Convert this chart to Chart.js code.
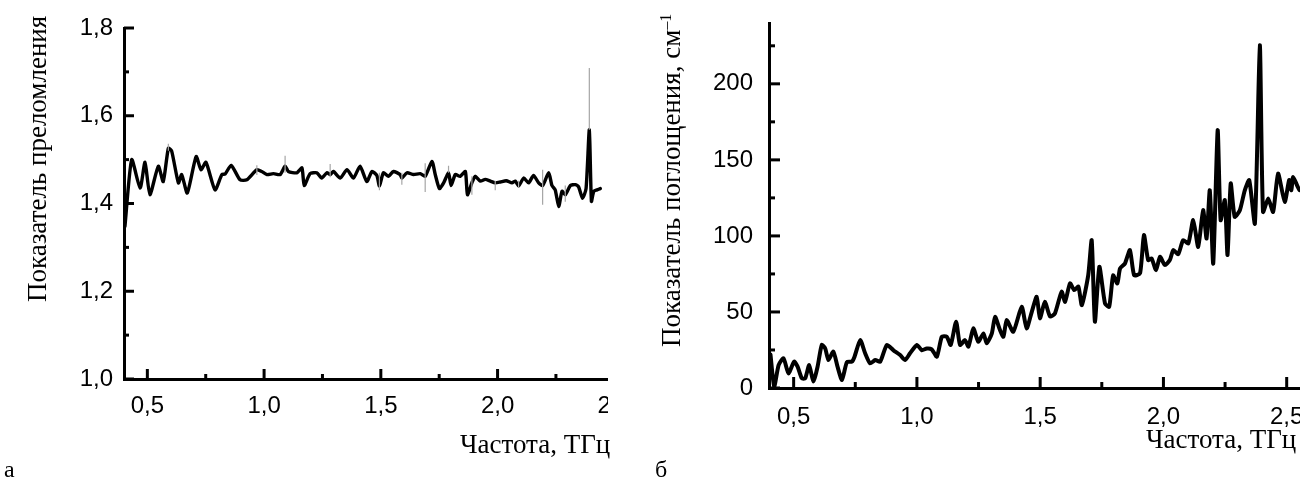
<!DOCTYPE html>
<html>
<head>
<meta charset="utf-8">
<script src="https://cdn.jsdelivr.net/npm/chart.js@4.4.1/dist/chart.umd.min.js"></script>
<style>
  html, body { margin: 0; padding: 0; background: #fff; }
  body { width: 1300px; height: 483px; position: relative; overflow: hidden; }
  .panel { position: absolute; top: 0; height: 483px; overflow: hidden; }
  canvas { position: absolute; top: 0; left: 0; }
  .txt { position: absolute; font-family: "Liberation Serif", "Times New Roman", serif; color: #000; white-space: nowrap; line-height: 1; }
  .ytitle { transform: rotate(-90deg); transform-origin: left top; }
  sup { font-size: 60%; vertical-align: 0.55em; line-height: 0; }
</style>
</head>
<body>
<div class="panel" id="panelA" style="left:0; width:608px;"><canvas id="chartA" width="700" height="483"></canvas></div>
<div class="panel" id="panelB" style="left:650px; width:720px;"><canvas id="chartB" width="720" height="483"></canvas></div>

<div class="txt ytitle" style="left:24px; top:302px; font-size:27px;">Показатель преломления</div>
<div class="txt" style="left:460px; top:431px; font-size:27px;">Частота, ТГц</div>
<div class="txt" style="left:4px; top:457px; font-size:24px;">а</div>

<div class="txt ytitle" style="left:658px; top:347px; font-size:27px;">Показатель поглощения, см<sup>–1</sup></div>
<div class="txt" style="left:1146px; top:426px; font-size:27px;">Частота, ТГц</div>
<div class="txt" style="left:655px; top:457px; font-size:24px;">б</div>

<script>
// Refractive index, smoothed curve (black)
const nFreq = [0.404,0.433,0.469,0.49,0.511,0.547,0.568,0.59,0.604,0.633,0.647,0.671,0.709,0.73,0.751,0.79,0.819,0.833,0.859,0.897,0.926,0.969,0.99,1.012,1.04,1.069,1.09,1.104,1.14,1.162,1.172,1.197,1.226,1.247,1.269,1.283,1.297,1.326,1.355,1.383,1.411,1.44,1.462,1.483,1.494,1.511,1.533,1.554,1.583,1.59,1.612,1.64,1.669,1.69,1.719,1.733,1.751,1.769,1.79,1.801,1.819,1.84,1.862,1.871,1.89,1.904,1.926,1.947,1.969,1.99,2.012,2.037,2.062,2.076,2.09,2.112,2.133,2.154,2.176,2.193,2.219,2.233,2.247,2.262,2.276,2.29,2.312,2.333,2.347,2.364,2.379,2.393,2.402,2.412,2.426,2.44];
const nValue = [1.348,1.50,1.435,1.494,1.42,1.485,1.45,1.526,1.52,1.447,1.466,1.424,1.507,1.477,1.494,1.431,1.466,1.467,1.487,1.454,1.454,1.477,1.473,1.466,1.468,1.466,1.485,1.473,1.47,1.481,1.441,1.468,1.47,1.458,1.47,1.466,1.473,1.458,1.477,1.458,1.485,1.45,1.473,1.464,1.44,1.47,1.462,1.473,1.466,1.458,1.47,1.466,1.468,1.462,1.496,1.466,1.434,1.447,1.47,1.441,1.466,1.462,1.473,1.42,1.447,1.462,1.451,1.455,1.451,1.447,1.449,1.452,1.447,1.451,1.44,1.458,1.447,1.464,1.447,1.441,1.47,1.441,1.431,1.393,1.428,1.42,1.441,1.443,1.438,1.412,1.434,1.568,1.405,1.428,1.431,1.434];

// Refractive index, raw-data excursions (thin grey): frequency, low, high
const nSpikeFreq = [0.59,0.969,1.09,1.283,1.494,1.59,1.69,1.79,1.89,1.99,2.09,2.193,2.29,2.393];
const nSpikeLow  = [1.52,1.465,1.47,1.46,1.43,1.443,1.426,1.47,1.42,1.43,1.436,1.397,1.404,1.568];
const nSpikeHigh = [1.536,1.487,1.509,1.49,1.47,1.47,1.492,1.486,1.462,1.452,1.452,1.477,1.441,1.709];

// Absorption coefficient, cm^-1
const aFreq = [0.406,0.421,0.439,0.459,0.479,0.502,0.516,0.533,0.547,0.563,0.58,0.597,0.614,0.628,0.641,0.661,0.678,0.696,0.716,0.736,0.747,0.77,0.79,0.81,0.831,0.851,0.878,0.905,0.932,0.952,0.972,1.0,1.02,1.04,1.06,1.081,1.101,1.121,1.137,1.159,1.175,1.195,1.209,1.229,1.249,1.27,1.283,1.304,1.317,1.337,1.351,1.364,1.391,1.425,1.445,1.466,1.486,1.499,1.519,1.54,1.56,1.587,1.601,1.621,1.638,1.655,1.669,1.695,1.709,1.722,1.74,1.763,1.78,1.796,1.813,1.824,1.844,1.864,1.881,1.905,1.921,1.938,1.952,1.97,1.986,2.006,2.026,2.04,2.06,2.08,2.101,2.121,2.141,2.161,2.175,2.188,2.202,2.22,2.232,2.249,2.26,2.273,2.289,2.31,2.33,2.348,2.371,2.391,2.404,2.425,2.445,2.465,2.492,2.51,2.519,2.526,2.553,2.575,2.6];
const aValue = [22,0.9,15.1,19.5,9.6,17.3,14,6.4,6.4,15.1,4.2,14,28.3,26,18.4,23.9,14,5.3,17,17.3,20.6,31.5,22.8,16.2,18.4,17.3,28.3,24.8,21.7,18.4,22.8,28.3,24.8,26,25.4,20.6,33.7,33.7,28.3,43.6,28.3,31.5,27.2,39.2,30.4,35.9,29.4,35.9,46.8,38.1,33.7,44.7,37,53.4,39.2,50.1,60,45.8,56.7,47,49.1,63.3,56.7,68.8,64.4,66.6,54.5,74.2,97.2,43.6,79.7,55.6,53.4,74,68.8,78.6,81.9,90.7,74.2,75.4,100.5,84.1,85.2,77.5,86.3,80.9,84.1,90.7,88,97.2,95.1,110.4,92.8,117,98.3,130,81.9,169.5,110.4,123.5,87.4,134.5,112.6,116.9,130,136.7,108.2,225.4,115.8,124.6,115.8,141,122.4,136.7,130,138.8,130,135,128];

// Axis ticks
const nMajorY = [1.0,1.2,1.4,1.6,1.8];
const nMinorY = [1.1,1.3,1.5,1.7];
const aMajorY = [0,50,100,150,200];
const aMinorY = [25,75,125,175,225];
const fMajor = [0.5,1.0,1.5,2.0,2.5];
const fMinor = [0.75,1.25,1.75,2.25];

const pts = (xs, ys) => xs.map((x, i) => ({x, y: ys[i]}));
function spikes(xs, lo, hi) {
  const out = [];
  xs.forEach((x, i) => { out.push({x, y: lo[i]}, {x, y: hi[i]}, {x, y: null}); });
  return out;
}
const comma = (d) => (v) => Number(v).toFixed(d).replace('.', ',');

// Tick marks drawn inward from the axis lines
const inwardTicks = {
  id: 'inwardTicks',
  afterDraw(chart, args, opts) {
    const {ctx} = chart;
    const xs = chart.scales.x, ys = chart.scales.y;
    const x0 = chart.chartArea.left, y0 = chart.chartArea.bottom;
    ctx.save();
    ctx.strokeStyle = '#000';
    ctx.lineWidth = opts.width;
    ctx.lineCap = 'butt';
    const draw = (a, b, c, d) => { ctx.beginPath(); ctx.moveTo(a, b); ctx.lineTo(c, d); ctx.stroke(); };
    opts.xMajor.forEach(v => { const p = xs.getPixelForValue(v); draw(p, y0, p, y0 - opts.major); });
    opts.xMinor.forEach(v => { const p = xs.getPixelForValue(v); draw(p, y0, p, y0 - opts.minor); });
    opts.yMajor.forEach(v => { const p = ys.getPixelForValue(v); draw(x0, p, x0 + opts.major, p); });
    opts.yMinor.forEach(v => { const p = ys.getPixelForValue(v); draw(x0, p, x0 + opts.minor, p); });
    ctx.restore();
  }
};

function noOverhang(s) { s.paddingTop = 0; s.paddingBottom = 0; s.paddingLeft = 0; s.paddingRight = 0; }

function makeChart(id, cfg) {
  return new Chart(document.getElementById(id), {
    type: 'line',
    data: { datasets: cfg.datasets },
    options: {
      responsive: false,
      animation: false,
      events: [],
      layout: { padding: cfg.padding },
      plugins: {
        legend: { display: false },
        tooltip: { enabled: false },
        inwardTicks: cfg.ticks
      },
      elements: { point: { radius: 0 }, line: { tension: 0.2, borderJoinStyle: 'round', borderCapStyle: 'round' } },
      scales: {
        x: {
          type: 'linear', min: cfg.xMin, max: cfg.xMax,
          grid: { display: false, drawTicks: false },
          border: { display: true, color: '#000', width: cfg.axisWidth },
          afterBuildTicks: (s) => { s.ticks = fMajor.map(v => ({value: v})); },
          afterFit: (s) => { s.height = cfg.xHeight; noOverhang(s); },
          ticks: { color: '#000', padding: cfg.xPad, maxRotation: 0, autoSkip: false,
                   font: { family: '"Liberation Sans", Arial, sans-serif', size: cfg.fontSize },
                   callback: comma(1) }
        },
        y: {
          type: 'linear', min: cfg.yMin, max: cfg.yMax,
          grid: { display: false, drawTicks: false },
          border: { display: true, color: '#000', width: cfg.axisWidth },
          afterBuildTicks: (s) => { s.ticks = cfg.yMajor.map(v => ({value: v})); },
          afterFit: (s) => { s.width = cfg.yWidth; noOverhang(s); },
          ticks: { color: '#000', padding: cfg.yPad, autoSkip: false,
                   font: { family: '"Liberation Sans", Arial, sans-serif', size: cfg.fontSize },
                   callback: cfg.yFmt }
        }
      }
    },
    plugins: [inwardTicks]
  });
}

makeChart('chartA', {
  datasets: [
    { data: spikes(nSpikeFreq, nSpikeLow, nSpikeHigh), borderColor: '#a6a6a6', borderWidth: 1.2, spanGaps: false, tension: 0, borderCapStyle: 'butt' },
    { data: pts(nFreq, nValue), borderColor: '#000', borderWidth: 3.4 }
  ],
  padding: { left: 0, top: 28, right: 39, bottom: 0 },
  xMin: 0.4, xMax: 2.7, yMin: 1.0, yMax: 1.8,
  xHeight: 104, yWidth: 124, xPad: 13, yPad: 11,
  fontSize: 24, axisWidth: 3,
  yMajor: nMajorY, yFmt: comma(1),
  ticks: { width: 3, major: 10, minor: 5, xMajor: fMajor, xMinor: fMinor, yMajor: nMajorY, yMinor: nMinorY }
});

makeChart('chartB', {
  datasets: [
    { data: pts(aFreq, aValue), borderColor: '#000', borderWidth: 4 }
  ],
  padding: { left: 0, top: 23, right: 720 - 686, bottom: 0 },
  xMin: 0.4, xMax: 2.7, yMin: 0, yMax: 240,
  xHeight: 95, yWidth: 119, xPad: 15, yPad: 16,
  fontSize: 24, axisWidth: 3,
  yMajor: aMajorY, yFmt: (v) => String(v),
  ticks: { width: 3, major: 11, minor: 6, xMajor: fMajor, xMinor: fMinor, yMajor: aMajorY, yMinor: aMinorY }
});
</script>
</body>
</html>
